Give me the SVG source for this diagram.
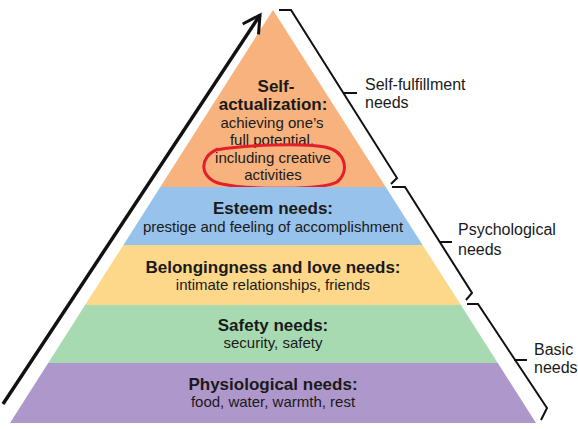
<svg xmlns="http://www.w3.org/2000/svg" width="578" height="429" viewBox="0 0 578 429">
<style>
text{font-family:"Liberation Sans",Arial,sans-serif;fill:#1a1a1a;text-anchor:middle}
.b{font-weight:bold;font-size:17px}
.r{font-size:15px}
.l{font-size:16px;text-anchor:start}
.ln{fill:none;stroke:#111;stroke-width:2;stroke-linejoin:miter}
</style>
<defs>
<marker id="ah" viewBox="0 0 12 12" refX="10" refY="6" markerWidth="6.5" markerHeight="6.5" orient="auto" markerUnits="strokeWidth">
<path d="M1,1 L10,6 L1,11" fill="none" stroke="#111" stroke-width="1.6"/>
</marker>
</defs>
<rect width="578" height="429" fill="#fff"/>
<g id="self-actualization">
<polygon points="273,10 385.7,187 160.3,187" fill="#F7B27D"/>
<text class="b" x="276" y="92">Self-</text>
<text class="b" x="273" y="110">actualization:</text>
<text class="r" x="272" y="128">achieving one’s</text>
<text class="r" x="272" y="145">full potential,</text>
<text class="r" x="273" y="163">including creative</text>
<text class="r" x="273" y="180">activities</text>
<path d="M216,150 C245,145 300,143 325,147 C346,151 350,172 337,182 C322,190 250,190 222,184 C199,179 198,157 218,149" fill="none" stroke="#E3202A" stroke-width="3"/>
</g>
<g id="esteem">
<polygon points="160.3,187 385.7,187 422.6,245 123.4,245" fill="#97C2EB"/>
<text class="b" x="273" y="214">Esteem needs:</text>
<text class="r" x="273" y="232">prestige and feeling of accomplishment</text>
</g>
<g id="belongingness">
<polygon points="123.4,245 422.6,245 460.9,305 85.1,305" fill="#FDD78A"/>
<text class="b" x="273" y="273">Belongingness and love needs:</text>
<text class="r" x="273" y="290">intimate relationships, friends</text>
</g>
<g id="safety">
<polygon points="85.1,305 460.9,305 497.8,363 48.2,363" fill="#A8DAB1"/>
<text class="b" x="273" y="331">Safety needs:</text>
<text class="r" x="273" y="348">security, safety</text>
</g>
<g id="physiological">
<polygon points="48.2,363 497.8,363 536,423 10,423" fill="#AE97CB"/>
<text class="b" x="273" y="390">Physiological needs:</text>
<text class="r" x="273" y="407">food, water, warmth, rest</text>
</g>
<g id="connectors">
<line x1="3" y1="404" x2="260" y2="15" stroke="#111" stroke-width="3.5" marker-end="url(#ah)"/>
<path class="ln" d="M279,10 L291,10 L397,178 L391,184 M343,93 L357,93"/>
<path class="ln" d="M392,187 L405,187 L472,293 L466,300 M440,242 L452,242"/>
<path class="ln" d="M467,304 L478,304 L547,408 L541,420 M514,360 L527,360"/>
</g>
<g id="labels">
<text class="l" x="365" y="90">Self-fulfillment</text>
<text class="l" x="365" y="108">needs</text>
<text class="l" x="458" y="235">Psychological</text>
<text class="l" x="458" y="255">needs</text>
<text class="l" x="534" y="355">Basic</text>
<text class="l" x="534" y="373">needs</text>
</g>
</svg>
